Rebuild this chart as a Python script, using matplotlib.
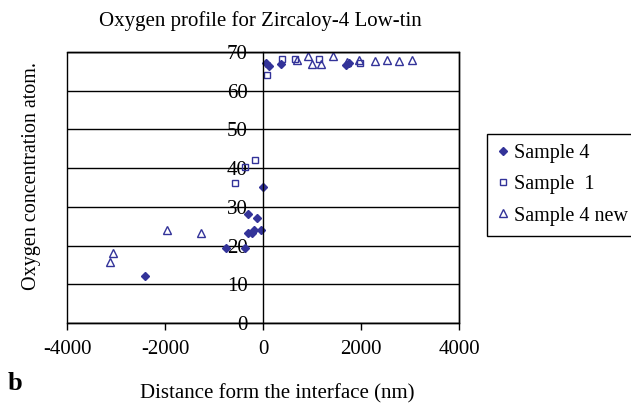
import numpy as np
import matplotlib.pyplot as plt
from matplotlib.patches import Rectangle

plt.rcParams['font.family'] = ['Liberation Serif', 'DejaVu Serif']
plt.rcParams['axes.unicode_minus'] = False

# Sample 4 (filled diamonds)
s4_x = [-2400, -750, -370, -313, -300, -231, -177, -130, -47, 0, 60, 130, 367, 1700, 1755]
s4_y = [12.1, 19.3, 19.3, 28.2, 23.2, 23.3, 23.9, 27.0, 24.0, 35.0, 67.2, 66.5, 67.0, 66.6, 67.2]

# Sample 1 (open squares)
s1_x = [-570, -360, -160, 75, 390, 650, 1150, 1975]
s1_y = [36.1, 40.4, 42.1, 64.0, 68.1, 68.1, 68.1, 67.2]

# Sample 4 new (open triangles)
s4n_x = [-3130, -3060, -1950, -1270, 690, 925, 990, 1180, 1435, 1720, 1950, 2285, 2525, 2785, 3035]
s4n_y = [15.8, 18.0, 24.0, 23.2, 68.0, 68.9, 66.8, 66.8, 69.0, 67.3, 68.0, 67.7, 67.9, 67.7, 67.9]

x_ticks = [-4000, -2000, 0, 2000, 4000]
y_ticks = [0, 10, 20, 30, 40, 50, 60, 70]

navy = '#333399'

fig = plt.figure(figsize=(6.31, 4.05), dpi=100)
ax = fig.add_axes([67 / 631, 1 - 323 / 405, 392 / 631, 271 / 405])

ax.plot(s4_x, s4_y, 'D', color=navy, markersize=4.5, mec=navy, ls='none', label='Sample 4', clip_on=False)
ax.plot(s1_x, s1_y, 's', mfc='none', mec=navy, mew=1.0, markersize=5, ls='none', label='Sample  1', clip_on=False)
ax.plot(s4n_x, s4n_y, '^', mfc='none', mec=navy, mew=1.0, markersize=5.5, ls='none', label='Sample 4 new', clip_on=False)

ax.set_xlim(-4000, 4000)
ax.set_ylim(0, 70)
ax.set_xticks(x_ticks)
ax.set_yticks(y_ticks)
ax.set_axisbelow(True)
ax.yaxis.grid(True, color='black', lw=1.0)

ax.spines['left'].set_position(('data', 0))
for sp in ax.spines.values():
    sp.set_color('black')
    sp.set_linewidth(1.0)
ax.add_patch(Rectangle((0, 0), 1, 1, transform=ax.transAxes, fill=False,
                       ec='black', lw=1.0, clip_on=False, zorder=2.5))

ax.tick_params(axis='x', direction='out', length=5, width=1, pad=7, labelsize=15)
ax.tick_params(axis='y', length=0, pad=11, labelsize=15)

fig.text(0.412, 0.948, 'Oxygen profile for Zircaloy-4 Low-tin', ha='center', va='center', fontsize=15)
fig.text(0.05, 0.565, 'Oxygen concentration atom.', ha='center', va='center', rotation=90, fontsize=14.5)
fig.text(0.44, 0.027, 'Distance form the interface (nm)', ha='center', va='center', fontsize=15)
fig.text(0.012, 0.052, 'b', fontsize=19, fontweight='bold', ha='left', va='center')

leg = ax.legend(loc='upper left', bbox_to_anchor=(487 / 631, 1 - 134 / 405),
                bbox_transform=fig.transFigure, fontsize=14.5, frameon=True,
                fancybox=False, edgecolor='black', framealpha=1,
                handlelength=0.6, handletextpad=0.25, borderpad=0.5,
                labelspacing=0.6, borderaxespad=0)
leg.get_frame().set_linewidth(1.0)

fig.savefig('out.png', dpi=100)
